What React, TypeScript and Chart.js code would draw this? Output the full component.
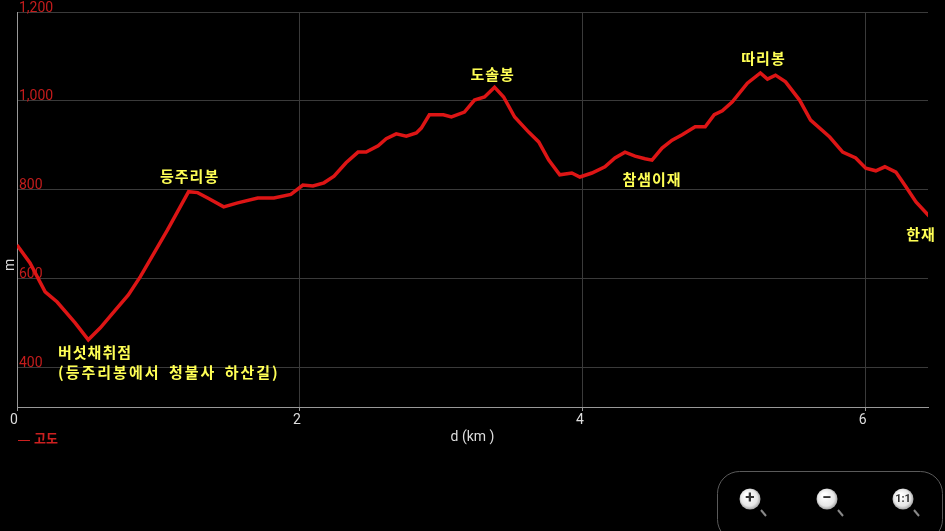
import React, { useEffect, useRef } from "react";
import { Chart, registerables } from "chart.js";

Chart.register(...registerables);

// ---- data ----
const distanceKm = [
  0, 0.092, 0.199, 0.284, 0.411, 0.504, 0.589, 0.695, 0.787, 0.872,
  1.064, 1.213, 1.277, 1.348, 1.461, 1.56, 1.702, 1.816, 1.936, 2.021,
  2.092, 2.17, 2.241, 2.326, 2.411, 2.468, 2.553, 2.61, 2.681, 2.752,
  2.823, 2.858, 2.915, 3.014, 3.071, 3.163, 3.234, 3.305, 3.376, 3.44,
  3.518, 3.617, 3.688, 3.759, 3.837, 3.922, 3.979, 4.064, 4.156, 4.227,
  4.298, 4.369, 4.44, 4.489, 4.56, 4.631, 4.702, 4.794, 4.865, 4.929,
  4.986, 5.057, 5.163, 5.255, 5.305, 5.362, 5.433, 5.532, 5.61, 5.745,
  5.837, 5.929, 6.0, 6.071, 6.135, 6.213, 6.284, 6.355, 6.454,
];
const elevationM = [
  676, 636, 571, 548, 501, 463, 490, 530, 564, 605,
  710, 796, 794, 782, 762, 771, 782, 782, 790, 811,
  809, 816, 831, 861, 885, 885, 899, 915, 926, 921,
  928, 939, 969, 969, 964, 975, 1002, 1009, 1031, 1009,
  964, 930, 908, 867, 834, 838, 829, 838, 852, 872,
  885, 876, 870, 867, 894, 912, 924, 942, 942, 969,
  978, 998, 1040, 1063, 1049, 1058, 1043, 1002, 957, 919,
  885, 872, 849, 843, 852, 840, 807, 773, 739,
];
const xRange = [0, 6.44];
const yRange = [312, 1200];
const xStep = 2;
const yStep = 200;

const peakNames = ["등주리봉", "도솔봉", "참샘이재", "따리봉", "한재"];
const peakLabelKm = [1.22, 3.362, 4.489, 5.277, 6.39];
const peakLabelM = [831, 1061, 825, 1097, 701];
const noteLines = ["버섯채취점", "(등주리봉에서 청불사 하산길)"];
const noteKm = [0.29, 0.29];
const noteM = [434, 391];

const seriesName = "고도";
const xTitle = "d (km )";
const yTitle = "m";
const zoomLabels = ["+", "−", "1:1"];

const overlayPlugin = {
  id: "overlay",
  beforeDraw(chart: any) {
    const { ctx, width, height } = chart;
    ctx.save();
    ctx.fillStyle = "#000";
    ctx.fillRect(0, 0, width, height);
    ctx.restore();
  },
  afterDraw(chart: any) {
    const { ctx, chartArea } = chart;
    const xs = chart.scales.x;
    const ys = chart.scales.y;
    ctx.save();
    // annotations
    ctx.font = 'bold 15px "Noto Sans CJK KR"';
    (ctx as any).letterSpacing = "1px";
    ctx.fillStyle = "#ffff55";
    ctx.textBaseline = "middle";
    ctx.textAlign = "center";
    peakNames.forEach((n, i) => {
      ctx.fillText(n, xs.getPixelForValue(peakLabelKm[i]), ys.getPixelForValue(peakLabelM[i]));
    });
    ctx.textAlign = "left";
    noteLines.forEach((n, i) => {
      (ctx as any).letterSpacing = i === 0 ? "1px" : "2px";
      (ctx as any).wordSpacing = i === 0 ? "0px" : "3px";
      ctx.fillText(n, xs.getPixelForValue(noteKm[i]), ys.getPixelForValue(noteM[i]));
    });
    (ctx as any).wordSpacing = "0px";
    (ctx as any).letterSpacing = "0px";

    // x title
    ctx.font = "14px Roboto";
    ctx.fillStyle = "#dddddd";
    ctx.textAlign = "center";
    ctx.fillText(xTitle, (chartArea.left + chartArea.right) / 2, chartArea.bottom + 30);

    // y title
    ctx.save();
    ctx.translate(chartArea.left - 7, chartArea.top + (chartArea.bottom - chartArea.top) * 0.64);
    ctx.rotate(-Math.PI / 2);
    ctx.fillText(yTitle, 0, 0);
    ctx.restore();

    // legend
    ctx.strokeStyle = "#cc2020";
    ctx.lineWidth = 1;
    ctx.beginPath();
    ctx.moveTo(chartArea.left + 1, chartArea.bottom + 33.5);
    ctx.lineTo(chartArea.left + 13, chartArea.bottom + 33.5);
    ctx.stroke();
    ctx.font = 'bold 13px "Noto Sans CJK KR"';
    ctx.fillStyle = "#cc2020";
    ctx.textAlign = "left";
    ctx.fillText(seriesName, chartArea.left + 17, chartArea.bottom + 31);

    // zoom controls
    const W = chart.width;
    const H = chart.height;
    ctx.strokeStyle = "#5a5a5a";
    ctx.lineWidth = 1;
    ctx.beginPath();
    (ctx as any).roundRect(W - 227.5, H - 59.5, 225, 70, 22);
    ctx.stroke();
    const cy = H - 32;
    const cxs = [W - 195, W - 118, W - 42];
    cxs.forEach((cx, i) => {
      ctx.strokeStyle = "#888";
      ctx.lineWidth = 2;
      ctx.beginPath();
      ctx.moveTo(cx + 11, cy + 11);
      ctx.lineTo(cx + 16, cy + 17);
      ctx.stroke();
      const g = ctx.createRadialGradient(cx - 3, cy - 4, 2, cx, cy, 11);
      g.addColorStop(0, "#ffffff");
      g.addColorStop(0.7, "#e6e6e6");
      g.addColorStop(1, "#9a9a9a");
      ctx.fillStyle = g;
      ctx.beginPath();
      ctx.arc(cx, cy, 10.5, 0, Math.PI * 2);
      ctx.fill();
      ctx.fillStyle = "#333";
      ctx.textAlign = "center";
      ctx.textBaseline = "middle";
      ctx.font = i === 2 ? "bold 11px Roboto" : "bold 17px Roboto";
      ctx.fillText(zoomLabels[i], cx, cy + (i === 2 ? 0.5 : -0.5));
    });
    ctx.restore();
  },
};

export default function App() {
  const ref = useRef<HTMLCanvasElement | null>(null);
  useEffect(() => {
    document.body.style.margin = "0";
    document.body.style.background = "#000";
    const canvas = ref.current;
    if (!canvas) return;
    const points = distanceKm.map((d, i) => ({ x: d, y: elevationM[i] }));
    const chart = new Chart(canvas, {
      type: "line",
      data: {
        datasets: [
          {
            label: seriesName,
            data: points,
            borderColor: "#dd1515",
            borderWidth: 3.5,
            pointRadius: 0,
            tension: 0,
            fill: false,
          },
        ],
      },
      options: {
        animation: false,
        responsive: false,
        layout: { padding: { left: 17, top: 12, right: 17, bottom: 94 } },
        plugins: { legend: { display: false }, tooltip: { enabled: false } },
        scales: {
          x: {
            type: "linear",
            min: xRange[0],
            max: xRange[1],
            afterFit: (s: any) => {
              s.height = 30;
            },
            grid: {
              color: "#3a3a3a",
              drawTicks: true,
              tickLength: 4,
              tickColor: "#999",
            },
            border: { color: "#999", width: 1 },
            ticks: {
              stepSize: xStep,
              includeBounds: false,
              color: "#dddddd",
              font: { family: "Roboto", size: 14 },
              padding: 1,
              labelOffset: -3,
              maxRotation: 0,
            },
          },
          y: {
            type: "linear",
            min: yRange[0],
            max: yRange[1],
            afterFit: (s: any) => {
              s.width = 0;
            },
            grid: { color: "#3a3a3a", drawTicks: false },
            border: { color: "#999", width: 1 },
            ticks: {
              stepSize: yStep,
              includeBounds: false,
              mirror: true,
              padding: 2,
              labelOffset: -4,
              color: "#c41c1c",
              font: { family: "Roboto", size: 14 },
            },
          },
        },
      },
      plugins: [overlayPlugin],
    });
    return () => chart.destroy();
  }, []);
  return (
    <div style={{ width: 945, height: 531, background: "#000" }}>
      <canvas ref={ref} width={945} height={531} style={{ display: "block" }} />
    </div>
  );
}
